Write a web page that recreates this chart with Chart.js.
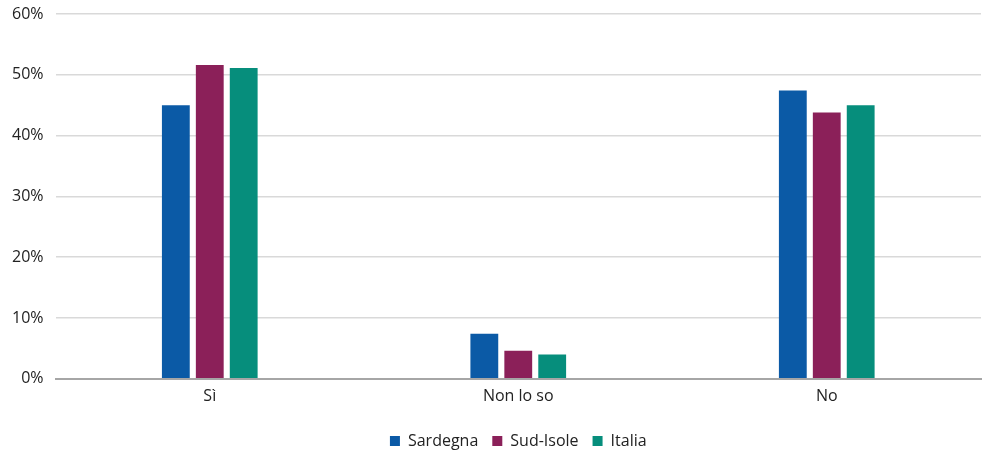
<!DOCTYPE html>
<html>
<head>
<meta charset="utf-8">
<script src="https://cdn.jsdelivr.net/npm/chart.js@4/dist/chart.umd.min.js"></script>
<style>
  html, body { margin: 0; padding: 0; background: #fff; }
  #wrap { width: 991px; height: 453px; }
</style>
</head>
<body>
<div id="wrap"><canvas id="chart"></canvas></div>
<script>
const categories = ['Sì', 'Non lo so', 'No'];
const sardegna = [45.0, 7.4, 47.4];
const sudIsole = [51.6, 4.6, 43.8];
const italia = [51.1, 4.0, 45.0];

const font = { family: '"Open Sans", "Noto Sans", sans-serif', size: 16 };

// centre the legend under the plot area and nudge it a little lower
const legendShift = {
    id: 'legendShift',
    afterLayout(chart) {
        const area = chart.chartArea;
        const lg = chart.legend;
        const off = (area.left + area.right) / 2 - (lg.left + lg.right) / 2;
        lg.left += off;
        lg.right += off;
        lg.top += 6;
        lg.bottom += 6;
    }
};

const chart = new Chart(document.getElementById('chart').getContext('2d'), {
    type: 'bar',
    data: {
        labels: categories,
        datasets: [
            { label: 'Sardegna', data: sardegna, backgroundColor: '#0b5aa6' },
            { label: 'Sud-Isole', data: sudIsole, backgroundColor: '#8b2059' },
            { label: 'Italia', data: italia, backgroundColor: '#068e7c' }
        ]
    },
    plugins: [legendShift],
    options: {
        responsive: true,
        maintainAspectRatio: false,
        animation: false,
        categoryPercentage: 0.33,
        barPercentage: 0.82,
        layout: { padding: { top: 14, right: 10, left: 0, bottom: 0 } },
        plugins: {
            tooltip: { enabled: false },
            legend: {
                position: 'bottom',
                labels: {
                    color: '#222',
                    font: font,
                    boxWidth: 10,
                    boxHeight: 10,
                    padding: 14
                }
            }
        },
        scales: {
            x: {
                grid: { display: false },
                border: { color: '#a6a6a6', width: 2 },
                ticks: { color: '#222', font: font, padding: 0 },
                afterFit: axis => { axis.height += 7; }
            },
            y: {
                min: 0,
                max: 60,
                ticks: {
                    stepSize: 10,
                    color: '#222',
                    font: font,
                    padding: 12,
                    callback: v => v + '%'
                },
                grid: {
                    color: '#d9d9d9',
                    lineWidth: 1.5,
                    drawTicks: false
                },
                border: { display: false },
                afterFit: axis => { axis.paddingTop = 0; }
            }
        }
    }
});
</script>
</body>
</html>
